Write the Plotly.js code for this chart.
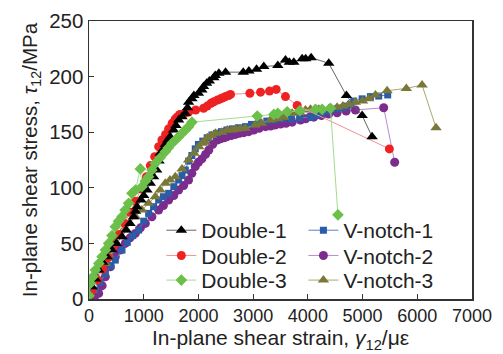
<!DOCTYPE html>
<html>
<head>
<meta charset="utf-8">
<script src="https://cdn.plot.ly/plotly-3.0.1.min.js"></script>
<style>html,body{margin:0;padding:0;background:#fff;}#chart{width:503px;height:354px;}</style>
</head>
<body>
<div id="chart"></div>
<script>
const seriesNames = ["Double-1", "V-notch-1", "Double-2", "V-notch-2", "Double-3", "V-notch-3"];

const d1x = [0, 55, 120, 177, 250, 330, 420, 500, 603, 680, 750, 816, 850, 877, 950, 1000, 1059, 1120, 1180, 1237, 1280, 1303, 1350, 1395, 1440, 1482, 1546, 1590, 1638, 1700, 1760, 1800, 1820, 1881, 1917, 2000, 2063, 2094, 2150, 2200, 2282, 2307, 2374, 2496, 2819, 2922, 3062, 3195, 3451, 3591, 3660, 3743, 3896, 3960, 4060, 4382, 4705, 4992, 5174];
const d1y = [0, 11, 18, 26, 33, 38, 44, 50, 56, 62, 68, 74, 79, 83, 89, 93, 98, 104, 110, 116, 124, 131, 134, 139, 143, 146, 152, 156, 161, 164, 167, 172, 177, 180, 183, 185, 188, 191, 194, 196, 199, 201, 203, 204, 204, 205, 206.5, 209, 210, 215, 213, 213, 216, 216, 217, 212, 183, 165, 146];

const d2x = [0, 60, 150, 250, 350, 450, 550, 650, 750, 850, 950, 1050, 1121, 1200, 1273, 1333, 1400, 1455, 1520, 1577, 1620, 1660, 1750, 1820, 1950, 2094, 2161, 2230, 2282, 2350, 2404, 2450, 2496, 2551, 2587, 2940, 3135, 3299, 3421, 3591, 3805, 5490];
const d2y = [2, 8, 17, 27, 37, 48, 58, 68, 78, 88, 99, 110, 120, 128, 137, 143, 148, 153, 158, 162, 164, 166, 167, 168, 170, 171.5, 173.5, 176, 177.4, 179, 180, 181, 182, 183, 184, 185, 186, 187, 188.5, 182, 174, 135];

const d3x = [0, 25, 70, 116, 180, 238, 300, 359, 420, 481, 540, 603, 660, 725, 785, 850, 938, 968, 1030, 1090, 1150, 1212, 1300, 1395, 1450, 1516, 1580, 1638, 1700, 1760, 1820, 1881, 3075, 3378, 3451, 3622, 3853, 4139, 4261, 4413, 4550];
const d3y = [3, 14, 20, 26, 32, 38, 44, 50, 57, 65, 70, 74, 80, 86, 95, 98, 117, 101, 106, 110, 116, 122, 127, 132.5, 136, 140, 143, 146, 149, 152, 155, 159, 164.5, 166, 167, 168.4, 169.3, 170.6, 170.6, 171.5, 75.7];

const v1x = [0, 116, 200, 299, 400, 481, 603, 700, 800, 907, 1000, 1090, 1180, 1273, 1360, 1455, 1550, 1638, 1700, 1760, 1820, 1880, 1942, 2000, 2080, 2160, 2246, 2330, 2420, 2520, 2620, 2730, 2861, 2970, 3104, 3250, 3400, 3550, 3700, 3850, 4048, 4150, 4261, 4400, 4535, 4640, 4718, 4778, 4839, 4992, 5143, 5295, 5459];
const v1y = [0, 8, 15, 23, 30, 35, 44, 51, 57, 62, 70, 77, 83, 89, 92, 95, 101, 107, 111, 116, 124, 129, 135, 139, 142, 145, 147.5, 149, 150.5, 152, 153, 154, 155, 157, 159, 160, 161, 162, 162, 163, 163.5, 165, 167, 169, 171, 172, 173.5, 175, 178, 180, 182, 182.5, 183.5];

const v2x = [0, 100, 177, 240, 299, 390, 481, 570, 664, 750, 847, 940, 1030, 1150, 1273, 1360, 1455, 1550, 1638, 1730, 1820, 1880, 1942, 2000, 2063, 2130, 2190, 2260, 2344, 2404, 2470, 2526, 2600, 2678, 2750, 2830, 2920, 3012, 3110, 3226, 3317, 3400, 3500, 3600, 3713, 3865, 3960, 4048, 4108, 4250, 4382, 4535, 4700, 4869, 5386, 5587];
const v2y = [0, 2, 5, 12, 20, 29, 38, 44, 50, 55, 59, 64, 68, 74, 80, 84, 89, 93, 98, 102, 107, 113, 119, 123, 126, 130, 134, 139, 143, 144, 145, 146, 147, 148, 149, 149.6, 150.5, 152, 153.5, 155, 155.5, 156.5, 157.4, 158, 159, 161, 162, 164, 163.5, 165, 166.3, 167.5, 169, 170, 172, 123];

const v3x = [0, 55, 146, 220, 299, 360, 420, 480, 542, 630, 725, 850, 968, 1090, 1212, 1300, 1395, 1480, 1577, 1700, 1820, 1920, 2008, 2070, 2125, 2161, 2240, 2313, 2428, 2526, 2611, 2678, 2760, 2855, 3037, 3150, 3317, 3450, 3561, 3713, 3850, 3956, 4048, 4200, 4380, 4535, 4640, 4747, 4869, 5000, 5113, 5235, 5448, 5800, 6087, 6343];
const v3y = [0, 8, 20, 26, 32, 40, 47, 52, 56, 62, 68, 74, 80, 86, 92, 98, 104, 107, 110, 117, 125, 131, 137, 140, 141, 145, 147, 149, 150, 152, 152, 152.6, 153, 153.5, 156.5, 158, 161, 162, 163.4, 167, 168, 170, 170.6, 170.6, 171, 172.5, 173.5, 175, 177, 178, 180, 183.4, 187.3, 189.4, 192.4, 154];

const xTicks = [0, 1000, 2000, 3000, 4000, 5000, 6000, 7000];
const yTicks = [0, 50, 100, 150, 200, 250];

const FONT = "Liberation Sans, Arial, sans-serif";

function tr(name, x, y, sym, mcol, lcol, size, legend) {
  return {
    type: "scatter", mode: "lines+markers", name: name, x: x, y: y,
    line: {color: lcol, width: 1},
    marker: {symbol: sym, color: mcol, size: size, line: {width: 0}},
    legend: legend
  };
}

const data = [
  tr(seriesNames[3], v2x, v2y, "circle", "#7b2c8c", "#b98cc8", 9, "legend4"),
  tr(seriesNames[1], v1x, v1y, "square", "#2a5ca8", "#5b82c4", 7, "legend2"),
  tr(seriesNames[5], v3x, v3y, "triangle-up", "#7a7838", "#a9a76e", 10, "legend6"),
  tr(seriesNames[2], d2x, d2y, "circle", "#ee2222", "#f39090", 9, "legend3"),
  tr(seriesNames[0], d1x, d1y, "triangle-up", "#000000", "#666666", 10, "legend"),
  tr(seriesNames[4], d3x, d3y, "diamond", "#6cc04a", "#a6dc90", 9, "legend5")
];

function leg(x, y) {
  return {
    bgcolor: "rgba(0,0,0,0)", borderwidth: 0,
    font: {family: FONT, size: 21, color: "#222"},
    orientation: "v", yanchor: "middle", xanchor: "left",
    itemwidth: 30, x: x, y: y
  };
}
const col1 = 0.1889, col2 = 0.5598;
const row1 = 0.2462, row2 = 0.1554, row3 = 0.0668;

const layout = {
  width: 503, height: 354,
  margin: {l: 88.5, r: 31.3, t: 20.7, b: 54.7},
  paper_bgcolor: "#fff", plot_bgcolor: "#fff",
  font: {family: FONT, color: "#222"},
  showlegend: true,
  legend: leg(col1, row1),
  legend2: leg(col2, row1),
  legend3: leg(col1, row2),
  legend4: leg(col2, row2),
  legend5: leg(col1, row3),
  legend6: leg(col2, row3),
  xaxis: {
    range: [0, 7000], tickvals: xTicks, ticktext: xTicks.map(String),
    ticks: "inside", ticklen: 5, tickcolor: "#333", tickwidth: 1,
    showline: true, linecolor: "#333", linewidth: 1.5, mirror: true,
    showgrid: false, zeroline: false,
    tickfont: {family: FONT, size: 18, color: "#222"},
    title: {text: "In-plane shear strain, <i>γ</i><sub>12</sub>/με", font: {family: FONT, size: 21, color: "#222"}, standoff: 4}
  },
  yaxis: {
    range: [0, 250], tickvals: yTicks, ticktext: yTicks.map(String),
    ticks: "inside", ticklen: 5, tickcolor: "#333", tickwidth: 1,
    showline: true, linecolor: "#333", linewidth: 1.5, mirror: true,
    showgrid: false, zeroline: false,
    tickfont: {family: FONT, size: 20.5, color: "#222"},
    title: {text: "In-plane shear stress, <i>τ</i><sub>12</sub>/MPa", font: {family: FONT, size: 20.5, color: "#222"}, standoff: 6}
  }
};

Plotly.newPlot("chart", data, layout, {displayModeBar: false, staticPlot: true});
</script>
</body>
</html>
